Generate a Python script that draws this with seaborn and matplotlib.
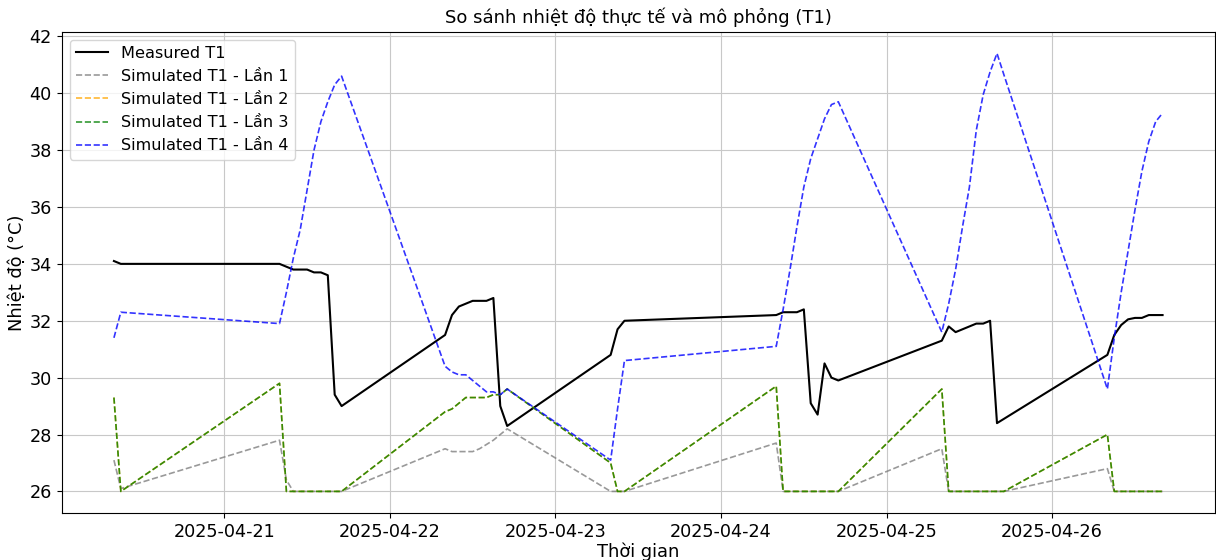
import pandas as pd
import matplotlib
matplotlib.use("Agg")
import matplotlib.pyplot as plt
import matplotlib.dates as mdates
import seaborn as sns

# sampling days and the hours logged on each of them
days = ["2025-04-20", "2025-04-21", "2025-04-22", "2025-04-23",
        "2025-04-24", "2025-04-25", "2025-04-26"]
hours_per_day = [[8, 9], list(range(8, 18)), list(range(8, 18)), [8, 9, 10],
                 list(range(8, 18)), list(range(8, 18)), list(range(8, 17))]

times = pd.to_datetime([f"{d} {h:02d}:00" for d, hs in zip(days, hours_per_day) for h in hs])

# measured temperature T1
measured_t1 = [
    34.1, 34.0,
    34.0, 33.9, 33.8, 33.8, 33.8, 33.7, 33.7, 33.6, 29.4, 29.0,
    31.5, 32.2, 32.5, 32.6, 32.7, 32.7, 32.7, 32.8, 29.0, 28.3,
    30.8, 31.7, 32.0,
    32.2, 32.3, 32.3, 32.3, 32.4, 29.1, 28.7, 30.5, 30.0, 29.9,
    31.3, 31.8, 31.6, 31.7, 31.8, 31.9, 31.9, 32.0, 28.4, 28.55,
    30.8, 31.5, 31.85, 32.05, 32.1, 32.1, 32.2, 32.2, 32.2,
]

# simulation runs
sim_lan1 = [
    27.1, 26.1,
    27.8, 26.4, 26.0, 26.0, 26.0, 26.0, 26.0, 26.0, 26.0, 26.0,
    27.5, 27.4, 27.4, 27.4, 27.4, 27.5, 27.65, 27.8, 28.0, 28.2,
    26.0, 26.0, 26.0,
    27.7, 26.0, 26.0, 26.0, 26.0, 26.0, 26.0, 26.0, 26.0, 26.0,
    27.5, 26.0, 26.0, 26.0, 26.0, 26.0, 26.0, 26.0, 26.0, 26.0,
    26.8, 26.0, 26.0, 26.0, 26.0, 26.0, 26.0, 26.0, 26.0,
]

sim_lan2 = [
    29.3, 26.0,
    29.8, 26.0, 26.0, 26.0, 26.0, 26.0, 26.0, 26.0, 26.0, 26.0,
    28.8, 28.9, 29.1, 29.3, 29.3, 29.3, 29.3, 29.4, 29.4, 29.6,
    27.0, 26.0, 26.0,
    29.7, 26.0, 26.0, 26.0, 26.0, 26.0, 26.0, 26.0, 26.0, 26.0,
    29.6, 26.0, 26.0, 26.0, 26.0, 26.0, 26.0, 26.0, 26.0, 26.0,
    28.0, 26.0, 26.0, 26.0, 26.0, 26.0, 26.0, 26.0, 26.0,
]

sim_lan3 = [
    29.3, 26.0,
    29.8, 26.0, 26.0, 26.0, 26.0, 26.0, 26.0, 26.0, 26.0, 26.0,
    28.8, 28.9, 29.1, 29.3, 29.3, 29.3, 29.3, 29.4, 29.4, 29.6,
    27.0, 26.0, 26.0,
    29.7, 26.0, 26.0, 26.0, 26.0, 26.0, 26.0, 26.0, 26.0, 26.0,
    29.6, 26.0, 26.0, 26.0, 26.0, 26.0, 26.0, 26.0, 26.0, 26.0,
    28.0, 26.0, 26.0, 26.0, 26.0, 26.0, 26.0, 26.0, 26.0,
]

sim_lan4 = [
    31.4, 32.3,
    31.9, 33.0, 34.2, 35.2, 36.6, 38.0, 39.0, 39.7, 40.3, 40.6,
    30.4, 30.2, 30.1, 30.1, 29.9, 29.7, 29.5, 29.5, 29.4, 29.6,
    27.1, 28.9, 30.6,
    31.1, 32.4, 33.8, 35.3, 36.7, 37.7, 38.4, 39.1, 39.6, 39.7,
    31.6, 32.6, 33.8, 35.3, 36.7, 38.7, 39.95, 40.75, 41.4, 40.65,
    29.6, 31.4, 33.0, 34.45, 35.9, 37.25, 38.3, 39.0, 39.3,
]

sim_series = [sim_lan1, sim_lan2, sim_lan3, sim_lan4]
sim_labels = ["Simulated T1 - Lần 1", "Simulated T1 - Lần 2",
              "Simulated T1 - Lần 3", "Simulated T1 - Lần 4"]
sim_colors = ["gray", "orange", "green", "blue"]

fig, ax = plt.subplots(figsize=(12.16, 5.6), dpi=100)
fig.subplots_adjust(left=61.5 / 1216, right=1215 / 1216,
                    bottom=1 - 513.3 / 560, top=1 - 31.5 / 560)

sns.lineplot(x=times, y=measured_t1, color="black", linewidth=1.5,
             label="Measured T1", ax=ax)
for values, label, color in zip(sim_series, sim_labels, sim_colors):
    sns.lineplot(x=times, y=values, color=color, linestyle="--", linewidth=1.2,
                 alpha=0.8, label=label, ax=ax)

ax.xaxis.set_major_locator(mdates.DayLocator())
ax.xaxis.set_major_formatter(mdates.DateFormatter("%Y-%m-%d"))
ax.tick_params(labelsize=12.7)
ax.grid(True, color="#c8c8c8")

ax.set_title("So sánh nhiệt độ thực tế và mô phỏng (T1)", fontsize=13)
ax.set_xlabel("Thời gian", fontsize=12.9, labelpad=1)
ax.set_ylabel("Nhiệt độ (°C)", fontsize=12.9, labelpad=2.5)
ax.legend(loc="upper left", fontsize=11.6)

fig.savefig("out.png", dpi=100)
